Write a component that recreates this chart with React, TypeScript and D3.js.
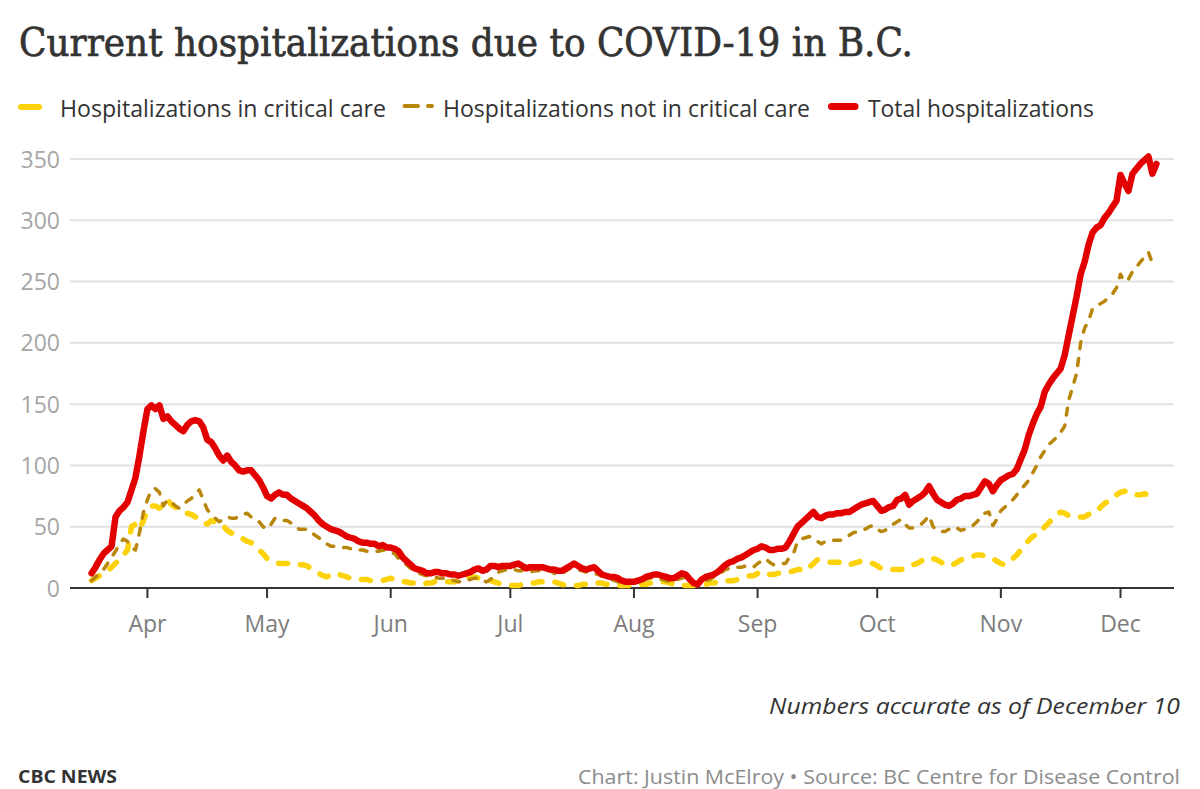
import React from "react";
import * as d3 from "d3";

// ---------- DATA ----------
const startDate = "2020-03-18"; // first daily value
const monthTicks = [
  "2020-04-01", "2020-05-01", "2020-06-01", "2020-07-01", "2020-08-01",
  "2020-09-01", "2020-10-01", "2020-11-01", "2020-12-01",
];
const yTicks = [0, 50, 100, 150, 200, 250, 300, 350];

const totalHospitalizations = [
  12, 17, 23, 28, 31, 34, 58, 63, 66, 70,
  80, 90, 108, 128, 146, 149, 146, 149, 138, 140,
  136, 133, 130, 128, 133, 136, 137, 136, 131, 121,
  119, 114, 108, 104, 108, 103, 100, 96, 95, 96,
  96, 92, 88, 82, 75, 73, 76, 78, 76, 76,
  73, 71, 69, 67, 65, 62, 59, 55, 52, 50,
  48, 47, 46, 44, 42, 41, 40, 38, 37, 37,
  36, 36, 34, 35, 33, 33, 32, 30, 25, 22,
  19, 16, 15, 14, 12, 12, 13, 13, 12, 12,
  11, 11, 10, 11, 12, 13, 15, 16, 14, 15,
  18, 18, 17, 18, 18, 18, 19, 20, 18, 16,
  17, 17, 17, 17, 16, 15, 15, 14, 14, 16,
  18, 20, 18, 16, 15, 16, 17, 14, 11, 10,
  9, 9, 8, 6, 5, 5, 5, 6, 7, 9,
  10, 11, 11, 10, 9, 8, 8, 10, 12, 11,
  7, 4, 3, 7, 9, 10, 11, 13, 16, 19,
  21, 22, 24, 25, 27, 29, 31, 32, 34, 33,
  31, 31, 32, 32, 33, 38, 44, 50, 53, 56,
  59, 62, 58, 57, 59, 60, 60, 61, 61, 62,
  62, 64, 66, 68, 69, 70, 71, 67, 63, 64,
  66, 67, 72, 73, 76, 68, 71, 73, 75, 78,
  83, 77, 72, 70, 68, 67, 69, 72, 73, 75,
  75, 76, 77, 82, 87, 85, 79, 84, 88, 90,
  92, 93, 97, 105, 113, 125, 134, 142, 148, 160,
  166, 171, 175, 179, 190, 206, 222, 238, 256, 266,
  280, 290, 294, 296, 302, 306, 311, 316, 337, 330,
  324, 338, 342, 346, 349, 352, 338, 346,
];

const notInCriticalCare = [
  6, 9, 12, 15, 20, 25, 30, 36, 40, 38,
  33, 31, 45, 62, 72, 80, 81, 78, 67, 72,
  70, 67, 65, 68, 71, 73, 77, 80, 72, 64,
  60, 57, 54, 56, 58, 57, 57, 58, 60, 61,
  58, 55, 54, 50, 48, 52, 57, 56, 55, 55,
  53, 50, 48, 48, 48, 46, 43, 41, 38, 36,
  34, 34, 34, 33, 33, 32, 31, 31, 31, 30,
  30, 30, 30, 31, 30, 29, 28, 24, 21, 19,
  16, 14, 12, 11, 10, 9, 9, 8, 8, 8,
  7, 6, 5, 5, 6, 7, 8, 8, 6, 5,
  7, 10, 13, 14, 15, 15, 15, 14, 14, 13,
  13, 14, 14, 15, 15, 14, 12, 11, 12, 14,
  16, 16, 15, 14, 13, 13, 12, 11, 10, 9,
  8, 6, 5, 4, 4, 4, 5, 6, 6, 7,
  8, 9, 8, 7, 6, 5, 6, 7, 8, 9,
  5, 3, 3, 5, 6, 7, 9, 11, 13, 15,
  16, 16, 17, 17, 18, 18, 17, 20, 22, 24,
  21, 19, 19, 20, 20, 25, 28, 38, 40, 41,
  42, 40, 38, 36, 38, 39, 39, 39, 39, 41,
  43, 45, 46, 47, 48, 50, 51, 48, 46, 47,
  50, 52, 54, 56, 52, 49, 49, 50, 52, 55,
  59, 50, 47, 46, 46, 48, 50, 49, 47, 48,
  50, 51, 54, 58, 61, 62, 51, 56, 63, 66,
  69, 72, 76, 80, 84, 88, 94, 100, 107, 112,
  117, 120, 123, 127, 132, 153, 164, 175, 200, 212,
  218, 228, 230, 232, 234, 237, 240, 245, 256, 250,
  252, 258, 262, 266, 270, 274, 265, 262,
];

const inCriticalCare = [
  6, 8, 10, 12, 14, 17, 20, 24, 27, 31,
  50, 52, 48, 55, 64, 67, 67, 65, 68, 72,
  68, 66, 64, 62, 61, 60, 58, 57, 54, 52,
  55, 54, 53, 51, 47, 45, 43, 41, 40, 38,
  37, 34, 31, 28, 24, 22, 21, 20, 20, 20,
  20, 20, 19, 19, 18, 16, 14, 12, 10, 9,
  11, 12, 11, 10, 9, 8, 8, 7, 7, 7,
  6, 6, 6, 6, 7, 8, 7, 6, 5, 5,
  4, 4, 3, 3, 4, 4, 5, 5, 5, 5,
  5, 5, 6, 7, 8, 9, 9, 8, 7, 7,
  6, 5, 4, 3, 2, 2, 2, 2, 3, 3,
  4, 4, 5, 5, 5, 5, 5, 4, 3, 2,
  2, 2, 2, 3, 3, 4, 4, 4, 4, 3,
  3, 2, 2, 2, 2, 2, 2, 2, 3, 3,
  4, 4, 5, 5, 5, 4, 3, 3, 2, 2,
  2, 2, 2, 3, 3, 4, 4, 5, 6, 6,
  6, 6, 7, 8, 9, 10, 10, 12, 13, 11,
  11, 11, 12, 12, 13, 13, 14, 15, 15, 14,
  17, 20, 23, 22, 21, 21, 21, 21, 21, 19,
  19, 20, 21, 22, 21, 20, 20, 18, 16, 16,
  16, 15, 15, 15, 16, 18, 19, 20, 22, 24,
  25, 24, 23, 21, 19, 18, 19, 21, 23, 24,
  25, 26, 27, 27, 26, 25, 24, 22, 20, 19,
  21, 24, 27, 31, 35, 39, 42, 44, 45, 50,
  53, 57, 60, 62, 61, 59, 58, 58, 58, 58,
  60, 61, 62, 66, 69, 71, 73, 76, 78, 79,
  77, 76, 76, 76, 77, 76, 74, 74,
];

const seriesLabels = [
  "Hospitalizations in critical care",
  "Hospitalizations not in critical care",
  "Total hospitalizations",
];

// ---------- STYLE / LAYOUT ----------
const W = 1200;
const H = 789;
const plotLeft = 70;
const plotRight = 1174;
const plotTop = 159;
const plotBottom = 588;
const SANS = "'Open Sans', 'Noto Sans', sans-serif";
const COLOR_CRIT = "#fcd20a";
const COLOR_NONCRIT = "#b8860b";
const COLOR_TOTAL = "#e30000";

const parse = (s: string) => new Date(s + "T00:00:00Z");

export default function App() {
  const start = parse(startDate);
  const dates = totalHospitalizations.map((_, i) => d3.utcDay.offset(start, i));
  const first = dates[0];
  const last = dates[dates.length - 1];

  const x = d3
    .scaleUtc()
    .domain([d3.utcHour.offset(first, -130), d3.utcHour.offset(last, 106)])
    .range([plotLeft, plotRight]);
  const y = d3.scaleLinear().domain([0, 350]).range([plotBottom, plotTop]);

  const line = d3
    .line<number>()
    .x((_, i) => x(dates[i]))
    .y((d) => y(d))
    .curve(d3.curveLinear);

  const fmt = d3.utcFormat("%b");

  return (
    <svg
      width={W}
      height={H}
      viewBox={`0 0 ${W} ${H}`}
      style={{ position: "absolute", left: 0, top: 0, background: "#fff" }}
    >
      <rect x={0} y={0} width={W} height={H} fill="#fff" />
      {/* Title */}
      <text
        x={19}
        y={56}
        fontFamily="'DejaVu Serif', serif"
        fontSize={39}
        fill="#333"
        stroke="#333"
        strokeWidth={0.7}
        textLength={894}
        lengthAdjust="spacingAndGlyphs"
      >
        Current hospitalizations due to COVID-19 in B.C.
      </text>

      {/* Legend */}
      <g fontFamily={SANS} fontSize={23} fill="#333">
        <line x1={21} x2={39} y1={107} y2={107} stroke={COLOR_CRIT} strokeWidth={6} strokeLinecap="round" />
        <text x={60} y={116.5} textLength={326} lengthAdjust="spacingAndGlyphs">{seriesLabels[0]}</text>
        <line x1={404.5} x2={418} y1={106} y2={106} stroke={COLOR_NONCRIT} strokeWidth={4} strokeLinecap="round" />
        <line x1={428} x2={432} y1={106} y2={106} stroke={COLOR_NONCRIT} strokeWidth={4} strokeLinecap="round" />
        <text x={443} y={116.5} textLength={367} lengthAdjust="spacingAndGlyphs">{seriesLabels[1]}</text>
        <line x1={831.5} x2={855} y1={106.5} y2={106.5} stroke={COLOR_TOTAL} strokeWidth={7} strokeLinecap="round" />
        <text x={868} y={116.5} textLength={226} lengthAdjust="spacingAndGlyphs">{seriesLabels[2]}</text>
      </g>

      {/* Grid + y labels */}
      <g>
        {yTicks.map((t) => (
          <g key={t}>
            {t > 0 && (
              <line x1={plotLeft} x2={plotRight} y1={y(t)} y2={y(t)} stroke="#e2e2e2" strokeWidth={2} />
            )}
            <text
              x={60}
              y={y(t) + 8.5}
              textAnchor="end"
              fontFamily={SANS}
              fontSize={23}
              fill="#a6a6a6"
            >
              {t}
            </text>
          </g>
        ))}
      </g>

      {/* X axis */}
      <line x1={plotLeft} x2={plotRight} y1={plotBottom} y2={plotBottom} stroke="#333" strokeWidth={2} />
      {monthTicks.map((m) => {
        const d = parse(m);
        const px = x(d);
        return (
          <g key={m}>
            <line x1={px} x2={px} y1={plotBottom} y2={plotBottom + 10} stroke="#333" strokeWidth={2} />
            <text
              x={px}
              y={632}
              textAnchor="middle"
              fontFamily={SANS}
              fontSize={23}
              fill="#7d7d7d"
            >
              {fmt(d)}
            </text>
          </g>
        );
      })}

      {/* Lines */}
      <path
        d={line(inCriticalCare) || ""}
        fill="none"
        stroke={COLOR_CRIT}
        strokeWidth={5.5}
        strokeLinecap="round"
        strokeLinejoin="round"
        strokeDasharray="9,13"
      />
      <path
        d={line(notInCriticalCare) || ""}
        fill="none"
        stroke={COLOR_NONCRIT}
        strokeWidth={3.5}
        strokeLinecap="round"
        strokeLinejoin="round"
        strokeDasharray="7,10"
      />
      <path
        d={line(totalHospitalizations) || ""}
        fill="none"
        stroke={COLOR_TOTAL}
        strokeWidth={6.5}
        strokeLinecap="round"
        strokeLinejoin="round"
      />

      {/* Footer */}
      <text
        x={1180}
        y={714}
        textAnchor="end"
        fontFamily={SANS}
        fontStyle="italic"
        fontSize={21}
        fill="#333"
        textLength={411}
        lengthAdjust="spacingAndGlyphs"
      >
        Numbers accurate as of December 10
      </text>
      <text
        x={18}
        y={783}
        fontFamily={SANS}
        fontWeight="bold"
        fontSize={18}
        fill="#333"
        textLength={99}
        lengthAdjust="spacingAndGlyphs"
      >
        CBC NEWS
      </text>
      <text
        x={1180}
        y={784}
        textAnchor="end"
        fontFamily={SANS}
        fontSize={20.5}
        fill="#8c8c8c"
        textLength={602}
        lengthAdjust="spacingAndGlyphs"
      >
        Chart: Justin McElroy • Source: BC Centre for Disease Control
      </text>
    </svg>
  );
}
